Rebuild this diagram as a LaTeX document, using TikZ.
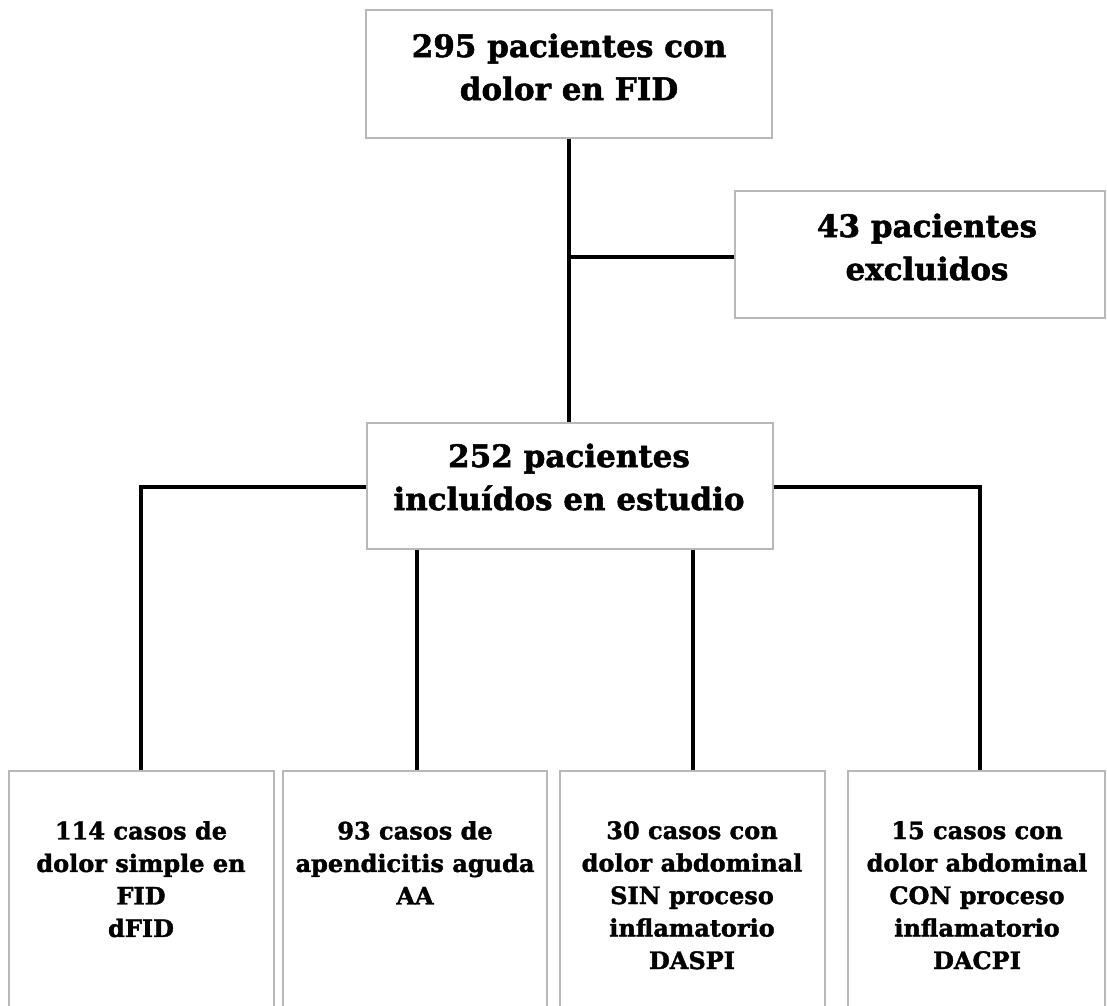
\documentclass[tikz,border=0pt]{standalone}
\usepackage{fontspec}
\setmainfont{DejaVu Serif}[BoldFeatures={FakeBold=1.6}]
\begin{document}
\begin{tikzpicture}[x=1pt,y=-1pt,
  box/.style={draw=black!28, line width=1.6pt, fill=white, inner sep=0pt},
  big/.style={font=\fontsize{31}{43}\selectfont\bfseries, align=center, inner sep=0pt},
  small/.style={font=\fontsize{24}{32.5}\selectfont\bfseries, align=center, inner sep=0pt, anchor=north},
  conn/.style={line width=3.2pt, black}]
\clip (0,0) rectangle (1107,1005);
\useasboundingbox (0,0) rectangle (1107,1005);
% boxes
\node[box, minimum width=406pt, minimum height=128pt] (top) at (569,74) {};
\node[box, minimum width=370pt, minimum height=127pt] (exc) at (920,254.5) {};
\node[box, minimum width=406pt, minimum height=126pt] (mid) at (570,486) {};
\node[box, minimum width=265pt, minimum height=250pt] (b1) at (141.5,896) {};
\node[box, minimum width=264pt, minimum height=250pt] (b2) at (415,896) {};
\node[box, minimum width=265pt, minimum height=250pt] (b3) at (692.5,896) {};
\node[box, minimum width=257pt, minimum height=250pt] (b4) at (976.5,896) {};
% coordinates
\coordinate (j1) at (569,257);
\coordinate (lc) at (141,487);
\coordinate (rc) at (980,487);
% connectors
\draw[conn] (top.south -| j1) -- (mid.north -| j1);
\draw[conn] (j1) -- (exc.west |- j1);
\draw[conn] (mid.west |- lc) -- (lc) -- (b1.north -| lc);
\draw[conn] (mid.east |- rc) -- (rc) -- (b4.north -| rc);
\draw[conn] (mid.south -| 417,0) -- (b2.north -| 417,0);
\draw[conn] (mid.south -| 693,0) -- (b3.north -| 693,0);
% texts
\node[big] (ttop) at (569,67) {295 pacientes con\\dolor en FID};
\node[big] (texc) at (927,247) {43 pacientes\\excluidos};
\node[big] (tmid) at (569,477) {252 pacientes\\incluídos en estudio};
\node[small] (t1) at (141,821) {114 casos de\\dolor simple en\\FID\\dFID};
\node[small] (t2) at (415,821) {93 casos de\\apendicitis aguda\\AA};
\node[small] (t3) at (692,821) {30 casos con\\dolor abdominal\\SIN proceso\\inflamatorio\\DASPI};
\node[small] (t4) at (977,821) {15 casos con\\dolor abdominal\\CON proceso\\inflamatorio\\DACPI};
\end{tikzpicture}
\end{document}
